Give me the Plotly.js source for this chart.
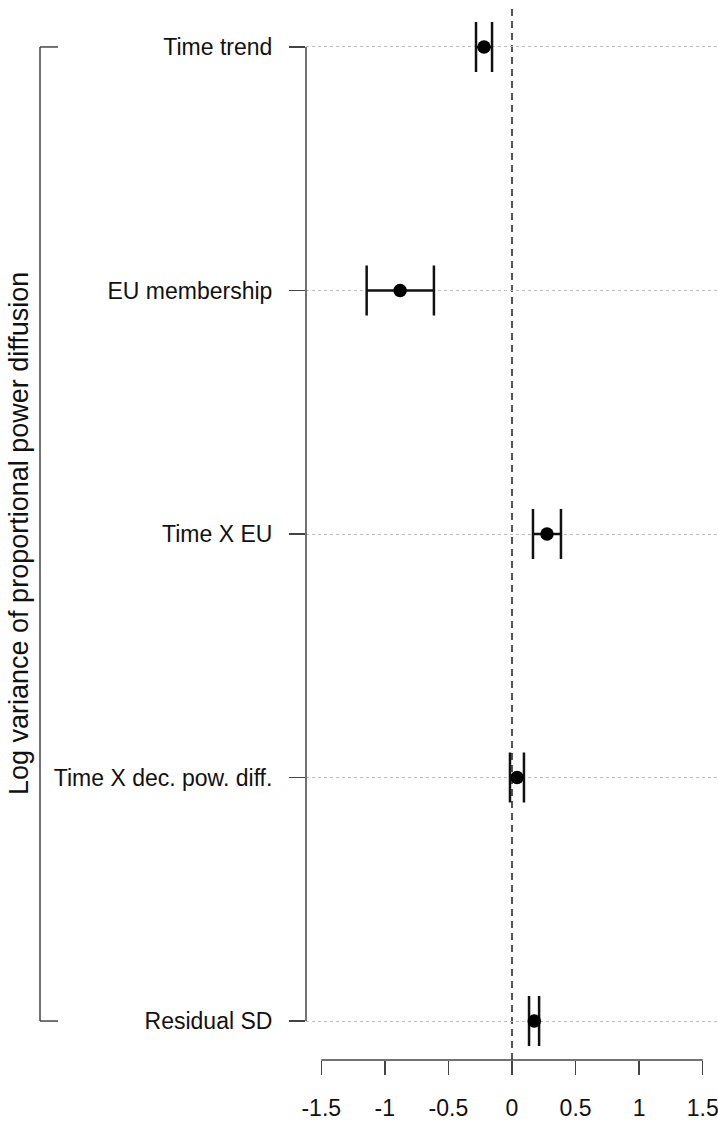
<!DOCTYPE html>
<html>
<head>
<meta charset="utf-8">
<script src="https://cdn.plot.ly/plotly-3.0.1.min.js"></script>
<style>html,body{margin:0;padding:0;background:#fff;}#chart{width:718px;height:1121px;}</style>
</head>
<body>
<div id="chart"></div>
<script>
// Data
const terms = ["Time trend", "EU membership", "Time X EU", "Time X dec. pow. diff.", "Residual SD"];
const estimate = [-0.22, -0.88, 0.275, 0.04, 0.175];
const lower = [-0.283, -1.143, 0.165, -0.016, 0.134];
const upper = [-0.157, -0.614, 0.385, 0.094, 0.213];
const xTicks = [-1.5, -1, -0.5, 0, 0.5, 1, 1.5];
const xTickText = ["-1.5", "-1", "-0.5", "0", "0.5", "1", "1.5"];
const yTitle = "Log variance of proportional power diffusion";

const FONT = "Liberation Sans, Arial, Helvetica, sans-serif";
const catOrder = terms.slice().reverse(); // bottom to top

const W = 718, H = 1121;
const mL = 306, mR = 0, mT = 8, mB = 61;
const plotW = W - mL - mR;
const px2paperX = p => (p - mL) / plotW;

const trace = {
  type: "scatter",
  mode: "markers",
  x: estimate,
  y: terms,
  marker: {color: "#000", size: 13.5},
  error_x: {
    type: "data",
    symmetric: false,
    array: upper.map((u, i) => u - estimate[i]),
    arrayminus: lower.map((l, i) => estimate[i] - l),
    color: "#111",
    thickness: 2.5,
    width: 25
  },
  hoverinfo: "skip",
  showlegend: false
};

const topIdx = terms.length - 1;
const shapes = [
  // dashed zero reference line
  {type: "line", xref: "x", yref: "paper", x0: 0, x1: 0, y0: 0, y1: 1,
   line: {color: "#555", width: 2, dash: "7px,5px"}, layer: "below"},
  // y axis line (spans first to last category)
  {type: "line", xref: "paper", yref: "y", x0: 0, x1: 0, y0: 0, y1: topIdx,
   line: {color: "#444", width: 1.5}},
  // x axis line (spans first to last tick)
  {type: "line", xref: "x", yref: "paper", x0: xTicks[0], x1: xTicks[xTicks.length - 1], y0: 0, y1: 0,
   line: {color: "#444", width: 1.5}},
  // bracket
  {type: "line", xref: "paper", yref: "y", x0: px2paperX(40), x1: px2paperX(40), y0: 0, y1: topIdx,
   line: {color: "#444", width: 1.5}},
  {type: "line", xref: "paper", yref: "y", x0: px2paperX(40), x1: px2paperX(58), y0: topIdx, y1: topIdx,
   line: {color: "#444", width: 1.5}},
  {type: "line", xref: "paper", yref: "y", x0: px2paperX(40), x1: px2paperX(58), y0: 0, y1: 0,
   line: {color: "#444", width: 1.5}}
];

const layout = {
  width: W, height: H,
  margin: {l: mL, r: mR, t: mT, b: mB, pad: 0},
  paper_bgcolor: "#fff",
  plot_bgcolor: "#fff",
  font: {family: FONT, size: 23, color: "#111"},
  xaxis: {
    range: [-1.62, 1.62],
    tickvals: xTicks,
    ticktext: xTickText,
    ticks: "outside",
    ticklen: 14,
    tickwidth: 1.5,
    tickcolor: "#444",
    showgrid: false,
    zeroline: false,
    showline: false,
    ticklabelstandoff: 13,
    ticklabeloverflow: "allow",
    tickfont: {family: FONT, size: 23, color: "#111"},
    fixedrange: true
  },
  yaxis: {
    type: "category",
    categoryorder: "array",
    categoryarray: catOrder,
    range: [-0.16, topIdx + 0.16],
    ticks: "outside",
    ticklen: 16,
    tickwidth: 1.5,
    tickcolor: "#444",
    showgrid: true,
    gridcolor: "#bdbdbd",
    gridwidth: 1,
    griddash: "3px,3px",
    zeroline: false,
    showline: false,
    ticklabelstandoff: 12,
    tickfont: {family: FONT, size: 23, color: "#111"},
    fixedrange: true
  },
  shapes: shapes,
  annotations: [{
    text: yTitle,
    xref: "paper", yref: "y",
    x: px2paperX(19), y: topIdx / 2,
    xanchor: "center", yanchor: "middle",
    textangle: -90,
    showarrow: false,
    font: {family: FONT, size: 27, color: "#111"}
  }]
};

Plotly.newPlot("chart", [trace], layout, {displayModeBar: false, staticPlot: true});
</script>
</body>
</html>
